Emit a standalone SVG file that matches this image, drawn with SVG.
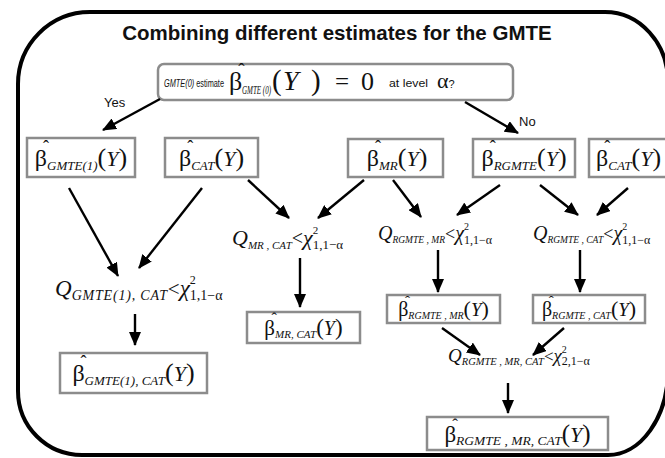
<svg xmlns="http://www.w3.org/2000/svg" width="665" height="458" viewBox="0 0 665 458">
<style>
.m{font-family:"Liberation Serif","Times New Roman",serif;fill:#111}
.a{font-family:"Liberation Sans",Arial,sans-serif;fill:#111}
.i{font-style:italic}
.box{fill:#fff;stroke:#8c8c8c;stroke-width:2.5}
.c line{stroke:#000;stroke-width:2.4;marker-end:url(#ah)}
</style>
<defs>
<marker id="ah" markerUnits="userSpaceOnUse" markerWidth="14" markerHeight="12" refX="13" refY="6" orient="auto"><path d="M0,0 L14,6 L0,12 Z" fill="#000"/></marker>
</defs>
<rect width="665" height="458" fill="#fff"/>
<path d="M 90,12 H 605 A 63 70 0 0 1 668,82 V 370 A 60 85 0 0 1 608,455 H 82 A 64 64 0 0 1 18,391 V 84 A 72 72 0 0 1 90,12 Z" fill="none" stroke="#000" stroke-width="4"/>
<text class="a" x="337" y="40" text-anchor="middle" font-size="20.5" font-weight="bold">Combining different estimates for the GMTE</text>

<g id="question">
<rect class="box" x="158" y="64" width="355" height="36" rx="6" stroke-width="2"/>
<text class="a" x="164" y="87" font-size="10" textLength="60" lengthAdjust="spacingAndGlyphs"><tspan class="i">GMTE(0)</tspan> estimate</text>
<text class="m" x="229" y="90"><tspan font-size="26">β</tspan><tspan font-size="19" dx="-4" dy="-14">ˆ</tspan></text>
<text class="m i" x="242" y="94" font-size="12" textLength="29" lengthAdjust="spacingAndGlyphs">GMTE (0)</text>
<text class="m" x="272" y="90" font-size="29">(</text>
<text class="m i" x="283" y="90" font-size="28">Y</text>
<text class="m" x="311" y="90" font-size="29">)</text>
<text class="m" x="335" y="90" font-size="25">=</text>
<text class="m" x="361" y="90" font-size="26">0</text>
<text class="a" x="389" y="87" font-size="10" textLength="39" lengthAdjust="spacingAndGlyphs">at level</text>
<text class="m" x="437" y="88" font-size="22">α<tspan class="a" font-size="11">?</tspan></text>
</g>
<text class="a" x="104" y="107" font-size="13">Yes</text>
<text class="a" x="519" y="126" font-size="13">No</text>

<g id="b_gmte1"><rect class="box" x="27" y="138" width="108" height="39"/>
<text class="m" x="81" y="166" text-anchor="middle"><tspan font-size="24">β</tspan><tspan font-size="18" dx="-4" dy="-13">ˆ</tspan><tspan class="i" font-size="13" dx="-2" dy="17">GMTE(1)</tspan><tspan font-size="26" dy="-4">(</tspan><tspan class="i" font-size="22">Y</tspan><tspan font-size="26">)</tspan></text></g>
<g id="b_cat1"><rect class="box" x="165" y="138" width="93" height="39"/>
<text class="m" x="211.5" y="166" text-anchor="middle"><tspan font-size="24">β</tspan><tspan font-size="18" dx="-4" dy="-13">ˆ</tspan><tspan class="i" font-size="13" dx="-2" dy="17">CAT</tspan><tspan font-size="26" dy="-4">(</tspan><tspan class="i" font-size="22">Y</tspan><tspan font-size="26">)</tspan></text></g>
<g id="b_mr"><rect class="box" x="348" y="139" width="95" height="38"/>
<text class="m" x="397" y="166" text-anchor="middle"><tspan font-size="24">β</tspan><tspan font-size="18" dx="-4" dy="-13">ˆ</tspan><tspan class="i" font-size="13" dx="-2" dy="17">MR</tspan><tspan font-size="26" dy="-4">(</tspan><tspan class="i" font-size="22">Y</tspan><tspan font-size="26">)</tspan></text></g>
<g id="b_rgmte"><rect class="box" x="473" y="139" width="102" height="38"/>
<text class="m" x="524" y="166" text-anchor="middle"><tspan font-size="24">β</tspan><tspan font-size="18" dx="-4" dy="-13">ˆ</tspan><tspan class="i" font-size="13" dx="-2" dy="17">RGMTE</tspan><tspan font-size="26" dy="-4">(</tspan><tspan class="i" font-size="22">Y</tspan><tspan font-size="26">)</tspan></text></g>
<g id="b_cat2"><rect class="box" x="589" y="139" width="86" height="38"/>
<text class="m" x="596" y="166"><tspan font-size="24">β</tspan><tspan font-size="18" dx="-4" dy="-13">ˆ</tspan><tspan class="i" font-size="13" dx="-2" dy="17">CAT</tspan><tspan font-size="26" dy="-4">(</tspan><tspan class="i" font-size="22">Y</tspan><tspan font-size="26">)</tspan></text></g>

<g id="q_mrcat"><text class="m" x="232" y="245"><tspan class="i" font-size="22">Q</tspan><tspan class="i" font-size="11" dy="4">MR , CAT</tspan><tspan font-size="20" dy="-4">&lt;</tspan><tspan class="i" font-size="22">χ</tspan><tspan font-size="11" dy="-11">2</tspan><tspan font-size="13" dx="-5.5" dy="15">1,1−α</tspan></text></g>
<g id="q_rgmtemr"><text class="m" x="378" y="240"><tspan class="i" font-size="20">Q</tspan><tspan class="i" font-size="9.5" dy="3">RGMTE , MR</tspan><tspan font-size="18" dy="-3">&lt;</tspan><tspan class="i" font-size="20">χ</tspan><tspan font-size="10" dy="-10">2</tspan><tspan font-size="12" dx="-5" dy="14">1,1−α</tspan></text></g>
<g id="q_rgmtecat"><text class="m" x="533" y="240"><tspan class="i" font-size="20">Q</tspan><tspan class="i" font-size="9.5" dy="3">RGMTE , CAT</tspan><tspan font-size="18" dy="-3">&lt;</tspan><tspan class="i" font-size="20">χ</tspan><tspan font-size="10" dy="-10">2</tspan><tspan font-size="12" dx="-5" dy="14">1,1−α</tspan></text></g>
<g id="q_gmte1cat"><text class="m" x="55" y="296"><tspan class="i" font-size="23">Q</tspan><tspan class="i" font-size="14" letter-spacing="0.8" dy="4">GMTE(1), CAT</tspan><tspan font-size="21" dy="-4">&lt;</tspan><tspan class="i" font-size="23">χ</tspan><tspan font-size="12" dy="-12">2</tspan><tspan font-size="14" dx="-6" dy="16">1,1−α</tspan></text></g>

<g id="b_mrcat"><rect class="box" x="247" y="312" width="113" height="31"/>
<text class="m" x="303.5" y="335" text-anchor="middle"><tspan font-size="21">β</tspan><tspan font-size="16" dx="-3.5" dy="-11">ˆ</tspan><tspan class="i" font-size="11" dx="-1.8" dy="14">MR, CAT</tspan><tspan font-size="23" dy="-3">(</tspan><tspan class="i" font-size="20">Y</tspan><tspan font-size="23">)</tspan></text></g>
<g id="b_gmte1cat"><rect class="box" x="60" y="353" width="147" height="40"/>
<text class="m" x="133.5" y="381" text-anchor="middle"><tspan font-size="24">β</tspan><tspan font-size="18" dx="-4" dy="-13">ˆ</tspan><tspan class="i" font-size="13" dx="-2" dy="17">GMTE(1), CAT</tspan><tspan font-size="26" dy="-4">(</tspan><tspan class="i" font-size="22">Y</tspan><tspan font-size="26">)</tspan></text></g>
<g id="b_rgmtemr"><rect class="box" x="387" y="295" width="113" height="28"/>
<text class="m" x="443.5" y="316" text-anchor="middle"><tspan font-size="20">β</tspan><tspan font-size="15" dx="-3.3" dy="-10.5">ˆ</tspan><tspan class="i" font-size="10" dx="-1.7" dy="13.5">RGMTE , MR</tspan><tspan font-size="22" dy="-3">(</tspan><tspan class="i" font-size="19">Y</tspan><tspan font-size="22">)</tspan></text></g>
<g id="b_rgmtecat"><rect class="box" x="533" y="295" width="112" height="28"/>
<text class="m" x="589" y="316" text-anchor="middle"><tspan font-size="20">β</tspan><tspan font-size="15" dx="-3.3" dy="-10.5">ˆ</tspan><tspan class="i" font-size="10" dx="-1.7" dy="13.5">RGMTE , CAT</tspan><tspan font-size="22" dy="-3">(</tspan><tspan class="i" font-size="19">Y</tspan><tspan font-size="22">)</tspan></text></g>
<g id="q_all"><text class="m" x="448" y="362"><tspan class="i" font-size="19">Q</tspan><tspan class="i" font-size="10.5" dy="3">RGMTE , MR, CAT</tspan><tspan font-size="17" dy="-3">&lt;</tspan><tspan class="i" font-size="19">χ</tspan><tspan font-size="10" dy="-9">2</tspan><tspan font-size="12" dx="-5" dy="12">2,1−α</tspan></text></g>
<g id="b_final"><rect class="box" x="427" y="417" width="181" height="33"/>
<text class="m" x="517.5" y="442" text-anchor="middle"><tspan font-size="23">β</tspan><tspan font-size="17" dx="-3.8" dy="-12.5">ˆ</tspan><tspan class="i" font-size="13.5" dx="-1.9" dy="15.5">RGMTE , MR, CAT</tspan><tspan font-size="25" dy="-3">(</tspan><tspan class="i" font-size="22">Y</tspan><tspan font-size="25">)</tspan></text></g>

<g class="c" id="connectors">
<line x1="160" y1="99" x2="103" y2="130"/>
<line x1="465" y1="102" x2="518" y2="133"/>
<line x1="69" y1="188" x2="118" y2="276"/>
<line x1="202" y1="188" x2="139" y2="268"/>
<line x1="248" y1="180" x2="289" y2="218"/>
<line x1="364" y1="180" x2="318" y2="218"/>
<line x1="393" y1="180" x2="421" y2="217"/>
<line x1="500" y1="185" x2="457" y2="215"/>
<line x1="540" y1="185" x2="578" y2="215"/>
<line x1="628" y1="188" x2="597" y2="215"/>
<line x1="300" y1="258" x2="300" y2="307"/>
<line x1="135" y1="314" x2="135" y2="345"/>
<line x1="438" y1="250" x2="438" y2="292"/>
<line x1="580" y1="250" x2="580" y2="292"/>
<line x1="442" y1="328" x2="480" y2="355"/>
<line x1="564" y1="328" x2="533" y2="355"/>
<line x1="508" y1="383" x2="508" y2="413"/>
</g>
</svg>
